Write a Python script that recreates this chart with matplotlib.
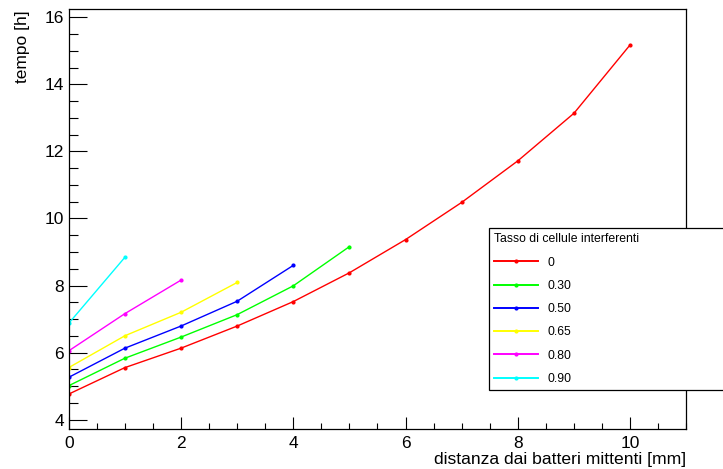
import matplotlib
matplotlib.use("Agg")
import matplotlib.pyplot as plt
from matplotlib.ticker import MultipleLocator

plt.rcParams['font.family'] = ['Liberation Sans', 'DejaVu Sans']

# Data
x_0 = [0, 1, 2, 3, 4, 5, 6, 7, 8, 9, 10]
y_0 = [4.76, 5.55, 6.13, 6.79, 7.52, 8.38, 9.37, 10.48, 11.72, 13.14, 15.18]
x_30 = [0, 1, 2, 3, 4, 5]
y_30 = [5.01, 5.83, 6.46, 7.13, 7.99, 9.16]
x_50 = [0, 1, 2, 3, 4]
y_50 = [5.26, 6.13, 6.79, 7.53, 8.60]
x_65 = [0, 1, 2, 3]
y_65 = [5.55, 6.50, 7.20, 8.09]
x_80 = [0, 1, 2]
y_80 = [6.05, 7.16, 8.16]
x_90 = [0, 1]
y_90 = [6.87, 8.84]

labels = ["0", "0.30", "0.50", "0.65", "0.80", "0.90"]
colors = ["#ff0000", "#00ff00", "#0000ff", "#ffff00", "#ff00ff", "#00ffff"]
series = [(x_0, y_0), (x_30, y_30), (x_50, y_50), (x_65, y_65), (x_80, y_80), (x_90, y_90)]

W, H = 723, 469
fig = plt.figure(figsize=(W / 100, H / 100), dpi=100)
ax = fig.add_axes([68.7 / W, 1 - 429.3 / H, (686.3 - 68.7) / W, (429.3 - 9.3) / H])

handles = []
for (xs, ys), c, lab in zip(series, colors, labels):
    h, = ax.plot(xs, ys, color=c, lw=1.0, marker='o', ms=2.0, mec=c, mfc=c, label=lab)
    handles.append(h)

ax.set_xlim(0, 11)
ax.set_ylim(3.71, 16.24)

ax.xaxis.set_major_locator(MultipleLocator(2))
ax.xaxis.set_minor_locator(MultipleLocator(0.5))
ax.yaxis.set_major_locator(MultipleLocator(2))
ax.yaxis.set_minor_locator(MultipleLocator(0.5))

ax.tick_params(axis='both', which='both', direction='in', top=False, right=False, colors='black', labelsize=12.5)
ax.tick_params(axis='y', which='major', length=13, width=0.8, pad=3.5)
ax.tick_params(axis='y', which='minor', length=6.7, width=0.8)
ax.tick_params(axis='x', which='major', length=9, width=0.8, pad=5)
ax.tick_params(axis='x', which='minor', length=4.5, width=0.8)
for s in ax.spines.values():
    s.set_linewidth(0.9)
    s.set_color('black')

fig.text(686.5 / W, 1 - 459 / H, "distanza dai batteri mittenti [mm]", ha='right', va='center', fontsize=12.6)
fig.text(23 / W, 1 - 10 / H, "tempo [h]", ha='center', va='top', rotation=90, fontsize=12.5)

leg = ax.legend(handles=handles, loc='upper left',
                bbox_to_anchor=(489 / W, 1 - 390 / H, 0.5, (390 - 228) / H),
                bbox_transform=fig.transFigure, mode='expand',
                title="Tasso di cellule interferenti", title_fontsize=8.8,
                fontsize=8.7, alignment='left', numpoints=1,
                handlelength=3.6, handletextpad=0.75, labelspacing=0.93,
                borderpad=0.45, borderaxespad=0, fancybox=False, framealpha=1,
                edgecolor='black')
leg.get_frame().set_linewidth(0.9)
for lh in leg.legend_handles:
    lh.set_linewidth(1.4)

fig.savefig("out.png", dpi=100)
